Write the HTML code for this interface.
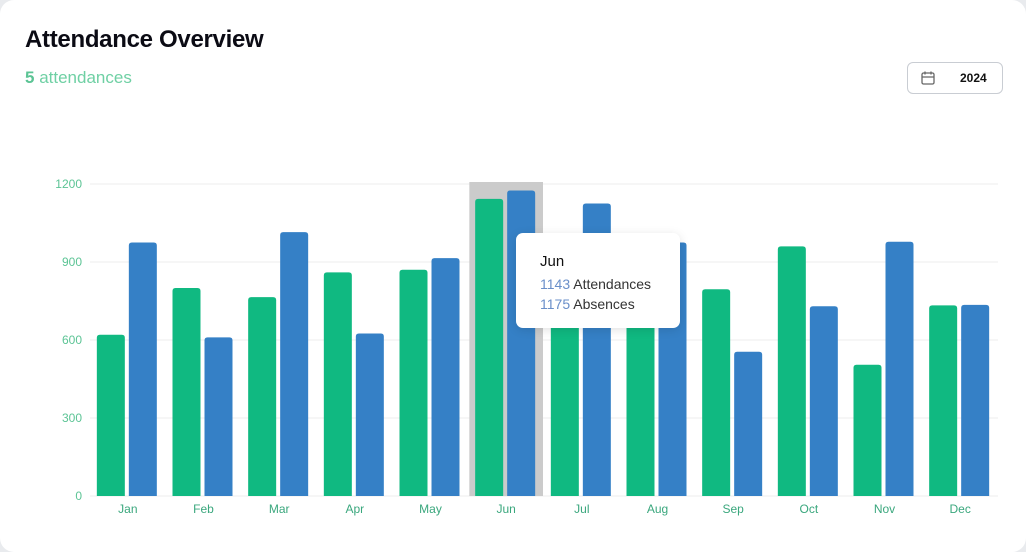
<!DOCTYPE html>
<html><head><meta charset="utf-8"><style>
body{margin:0;background:#e9ebee;font-family:"Liberation Sans",sans-serif;}
#card{position:absolute;left:0;top:0;width:1026px;height:552px;background:#fff;border-radius:14px;overflow:hidden}
#title{position:absolute;left:25px;top:26px;font-size:24px;font-weight:bold;color:#0b0b14;letter-spacing:-0.3px}
#sub{position:absolute;left:25px;top:68px;font-size:17px;color:#6fd0a4}
#sub b{color:#5cc495}
#year{position:absolute;left:907px;top:62px;width:94px;height:30px;border:1px solid #c9cdd3;border-radius:6px;font-size:12px;font-weight:bold;color:#111}
#tip{position:absolute;left:516px;top:233px;width:164px;height:95px;background:#fff;border-radius:7px;box-shadow:0 2px 10px rgba(0,0,0,0.12)}
</style></head><body>
<div id="card">
<div id="title">Attendance Overview</div>
<div id="sub"><b>5</b> attendances</div>
<div id="year">
<svg width="16" height="16" style="position:absolute;left:12px;top:7px" viewBox="0 0 16 16"><rect x="2" y="3" width="12" height="11" rx="1.5" fill="none" stroke="#666" stroke-width="1.3"/><line x1="2" y1="7" x2="14" y2="7" stroke="#666" stroke-width="1.3"/><line x1="5" y1="1.5" x2="5" y2="4.5" stroke="#666" stroke-width="1.3"/><line x1="11" y1="1.5" x2="11" y2="4.5" stroke="#666" stroke-width="1.3"/></svg>
<span style="position:absolute;left:52px;top:8px">2024</span></div>
<svg id="chart" width="1026" height="552" style="position:absolute;left:0;top:0"></svg>
<div id="tip">
<div style="position:absolute;left:24px;top:20px;font-size:15px;color:#111">Jun</div>
<div style="position:absolute;left:24px;top:43px;font-size:14px;color:#333"><span style="color:#6a8fc9">1143</span> Attendances</div>
<div style="position:absolute;left:24px;top:63px;font-size:14px;color:#333"><span style="color:#6a8fc9">1175</span> Absences</div>
</div>
</div>
<script>
const months=["Jan","Feb","Mar","Apr","May","Jun","Jul","Aug","Sep","Oct","Nov","Dec"];
const attendances=[620,800,765,860,870,1143,700,690,795,960,505,733];
const absences=[975,610,1015,625,915,1175,1125,975,555,730,978,735];
const yTicks=[0,300,600,900,1200];
const NS="http://www.w3.org/2000/svg";
const svg=document.getElementById('chart');
const L=90,R=998,T=184,B=496,ymax=1200;
const bw=(R-L)/months.length;
const y=v=>B-(v/ymax)*(B-T);
const xb=i=>L+i*bw;
function mk(t,a){const e=document.createElementNS(NS,t);for(const k in a)e.setAttribute(k,a[k]);svg.appendChild(e);return e;}
yTicks.forEach(v=>{
  const g=mk('line',{x1:L,x2:R,y1:y(v),y2:y(v),stroke:'#ececec','stroke-width':1});
  
  
  const t=mk('text',{x:L-8,y:y(v)+4,'text-anchor':'end','font-size':12,fill:'#5cc495','font-family':'Liberation Sans, sans-serif'});
  t.textContent=v;
  
  
});
const hi=mk('rect',{x:xb(5)+1,y:T-2,width:bw-2,height:B-T+2,fill:'#cbcbcb'});


function bar(x,v,c){
  const r=3;
  return mk('path',{d:`M${x},${B}V${y(v)+r}Q${x},${y(v)} ${x+r},${y(v)}H${x+28-r}Q${x+28},${y(v)} ${x+28},${y(v)+r}V${B}Z`,fill:c});
}
months.forEach((m,i)=>{
  const cx=xb(i)+bw/2;
  const a=bar(cx-31,attendances[i],'#10b981');
  
  
  const b=bar(cx+1,absences[i],'#3580c6');
  
  
  const t=mk('text',{x:cx,y:B+17,'text-anchor':'middle','font-size':12,fill:'#3aa77d','font-family':'Liberation Sans, sans-serif'});
  t.textContent=m;
  
  
});
</script>
</body></html>
